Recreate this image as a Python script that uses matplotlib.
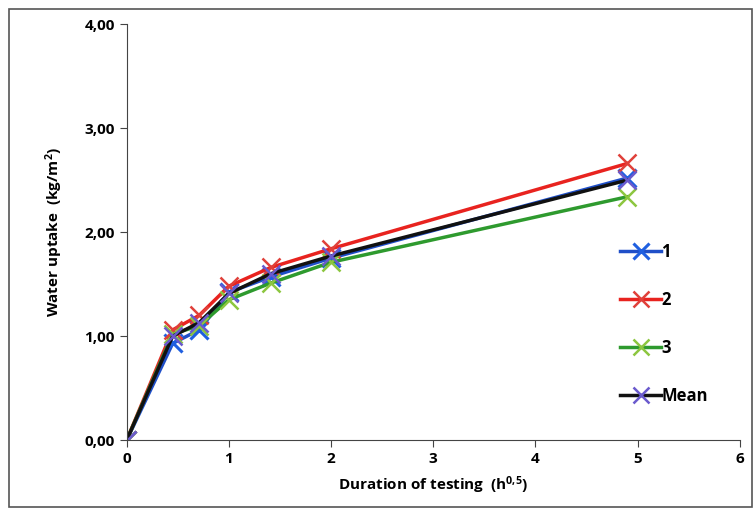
import matplotlib.pyplot as plt
from matplotlib.ticker import FuncFormatter

plt.rcParams['font.family'] = ['Open Sans', 'DejaVu Sans']
plt.rcParams['mathtext.fontset'] = 'custom'
plt.rcParams['mathtext.bf'] = 'Open Sans:bold'
plt.rcParams['mathtext.rm'] = 'Open Sans:bold'
plt.rcParams['mathtext.default'] = 'bf'

# Duration of testing (h^0.5)
t = [0, 0.45, 0.71, 1.0, 1.41, 2.0, 4.9]

# Water uptake (kg/m2)
s1 = [0, 0.93, 1.06, 1.42, 1.57, 1.75, 2.52]
s2 = [0, 1.06, 1.20, 1.48, 1.66, 1.84, 2.66]
s3 = [0, 1.02, 1.10, 1.35, 1.51, 1.71, 2.34]
mean = [0, 1.00, 1.13, 1.41, 1.60, 1.77, 2.50]

labels = ['1', '2', '3', 'Mean']

fig = plt.figure(figsize=(7.54, 5.13), dpi=100)
ax = fig.add_axes([0.168, 0.142, 0.813, 0.811])

# outer chart frame
fig.patches.append(plt.Rectangle((0.012, 0.012), 0.985, 0.97, transform=fig.transFigure,
                                 fill=False, edgecolor='#555555', linewidth=1.2))

ax.plot(t, s1, color='#1f4fc8', lw=2.5, marker='x', ms=13, mew=2.2, mec='#1f5fe0', label=labels[0])
ax.plot(t, s2, color='#e8231f', lw=2.5, marker='x', ms=13, mew=1.8, mec='#e0403a', label=labels[1])
ax.plot(t, s3, color='#2e9a2e', lw=2.5, marker='x', ms=13, mew=1.8, mec='#8cc63f', label=labels[2])
ax.plot(t, mean, color='#111111', lw=2.5, marker='x', ms=13, mew=1.8, mec='#6a5acd', label=labels[3])

ax.set_xlim(0, 6)
ax.set_ylim(0, 4)
ax.set_xticks(range(0, 7))
ax.set_yticks([0, 1, 2, 3, 4])
ax.yaxis.set_major_formatter(FuncFormatter(lambda v, p: f'{v:.2f}'.replace('.', ',')))

for s in ['top', 'right']:
    ax.spines[s].set_visible(False)
ax.spines['left'].set_color('#444444')
ax.spines['bottom'].set_color('#444444')
ax.tick_params(direction='out', length=5, color='#444444', labelsize=11)
for lab in ax.get_xticklabels() + ax.get_yticklabels():
    lab.set_fontweight('bold')

ax.set_xlabel('Duration of testing  (h$^{0{,}5}$)', fontsize=11, fontweight='bold', labelpad=6)
ax.set_ylabel('Water uptake  (kg/m$^{2}$)', fontsize=11, fontweight='bold', labelpad=14)

leg = ax.legend(loc='center left', bbox_to_anchor=(0.78, 0.28), frameon=False,
                labelspacing=1.8, handlelength=2.5, handletextpad=0.0, fontsize=12,
                markerscale=0.9)
for txt in leg.get_texts():
    txt.set_fontweight('bold')

fig.savefig('out.png', dpi=100)
